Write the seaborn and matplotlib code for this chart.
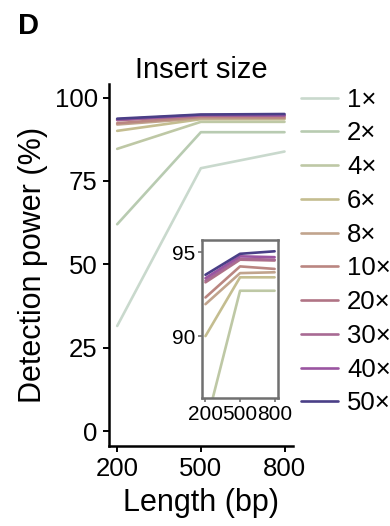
import pandas as pd
import matplotlib.pyplot as plt
import seaborn as sns

# Data
lengths = [200, 500, 800]
depths = ["1×", "2×", "4×", "6×", "8×", "10×", "20×", "30×", "40×", "50×"]
power = {
    "1×": [31.5, 78.8, 83.8],
    "2×": [62.0, 89.6, 89.6],
    "4×": [84.6, 92.7, 92.7],
    "6×": [90.0, 93.5, 93.5],
    "8×": [91.9, 93.75, 93.8],
    "10×": [92.3, 94.15, 94.0],
    "20×": [93.2, 94.55, 94.5],
    "30×": [93.3, 94.6, 94.55],
    "40×": [93.45, 94.75, 94.7],
    "50×": [93.65, 94.9, 95.05],
}
colors = ["#c9d9cd", "#b8cbb1", "#bec8a5", "#c4bd90", "#c1a48d",
          "#ba8681", "#b07485", "#a86a93", "#9a55a1", "#4a3f87"]
inset_depths = depths[2:]

rows = []
for d in depths:
    for x, v in zip(lengths, power[d]):
        rows.append({"Length": x, "Power": v, "Depth": d})
df = pd.DataFrame(rows)

sns.set_style("ticks")
plt.rcParams["font.family"] = ["Liberation Sans", "DejaVu Sans"]
plt.rcParams["text.color"] = "black"
plt.rcParams["axes.labelcolor"] = "black"
plt.rcParams["axes.edgecolor"] = "black"
plt.rcParams["xtick.color"] = "black"
plt.rcParams["ytick.color"] = "black"
pal = dict(zip(depths, colors))

fig = plt.figure(figsize=(3.9, 5.26), dpi=100)
ax = fig.add_axes([0.279, 0.152, 0.472, 0.688])
sns.lineplot(data=df, x="Length", y="Power", hue="Depth", hue_order=depths,
             palette=pal, linewidth=1.9, ax=ax)
ax.set_xlim(170, 830)
ax.set_ylim(-4.5, 104)
ax.set_xticks(lengths)
ax.set_yticks([0, 25, 50, 75, 100])
ax.tick_params(labelsize=18.5, width=1.4, length=4, pad=4, colors="black")
for s in ["left", "bottom"]:
    ax.spines[s].set_linewidth(1.8)
sns.despine(ax=ax)
ax.set_xlabel("Length (bp)", fontsize=22, labelpad=5)
ax.set_ylabel("Detection power (%)", fontsize=22, labelpad=5)
ax.set_title("Insert size", fontsize=21, pad=2)

handles, labels = ax.get_legend_handles_labels()
ax.get_legend().remove()
fig.legend(handles, labels, loc="upper left", bbox_to_anchor=(0.745, 0.853),
           frameon=False, fontsize=18.5, handlelength=1.45, handletextpad=0.35,
           labelspacing=0.38, borderaxespad=0)

# Inset zoom on the high-depth curves
ins = fig.add_axes([0.518, 0.243, 0.195, 0.300])
sns.lineplot(data=df[df["Depth"].isin(inset_depths)], x="Length", y="Power",
             hue="Depth", hue_order=inset_depths, palette=pal, linewidth=1.9,
             legend=False, ax=ins)
ins.set_xlim(170, 830)
ins.set_ylim(86.3, 95.7)
ins.set_xticks(lengths)
ins.set_yticks([90, 95])
ins.set_xlabel("")
ins.set_ylabel("")
ins.tick_params(labelsize=15, width=1.2, length=3, pad=2, color="#707070",
                labelcolor="black")
for s in ins.spines.values():
    s.set_color("#707070")
    s.set_linewidth(1.8)

fig.text(0.045, 0.935, "D", fontsize=21, fontweight="bold")

plt.savefig("out.png", dpi=100)
